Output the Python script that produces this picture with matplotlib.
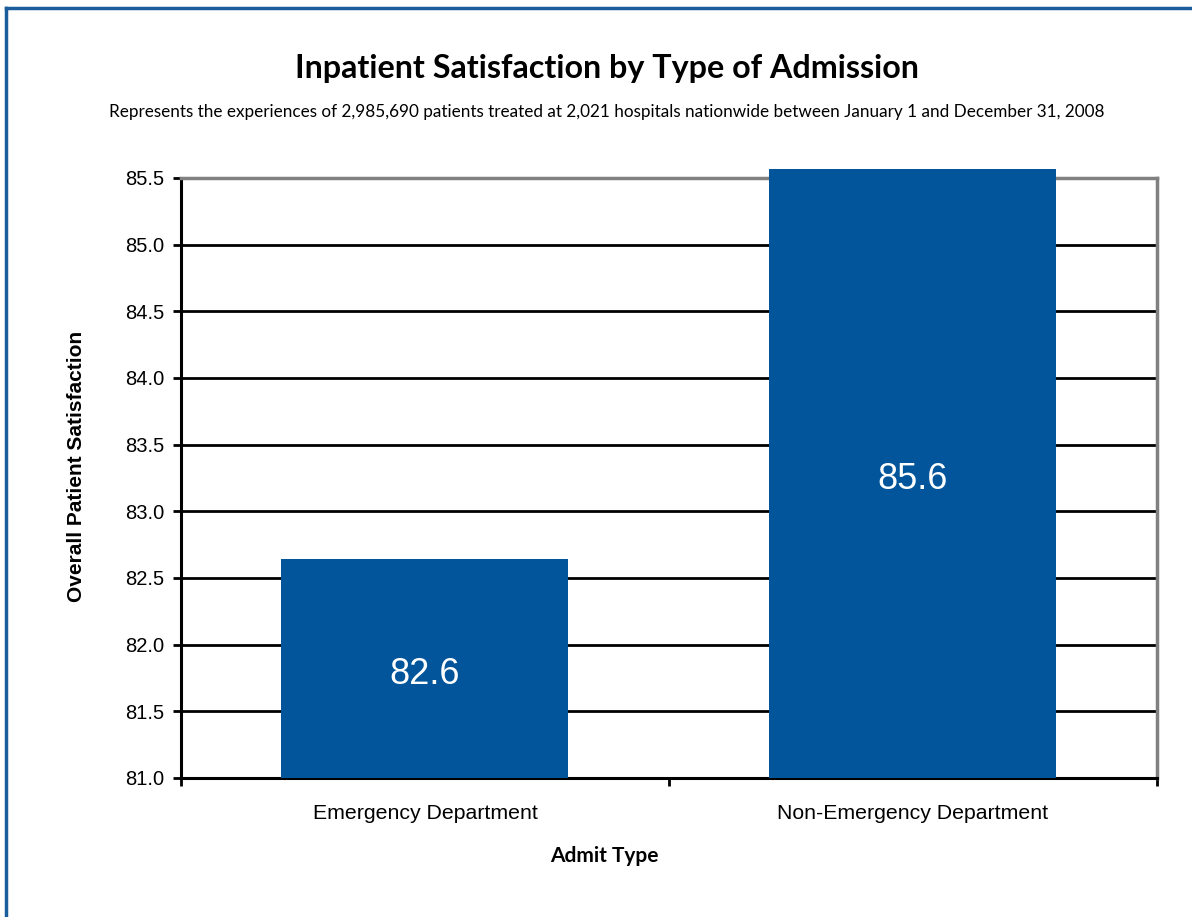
import numpy as np
import matplotlib.pyplot as plt
from matplotlib.lines import Line2D

categories = ["Emergency Department", "Non-Emergency Department"]
values = [82.64, 85.57]
value_labels = ["82.6", "85.6"]
y_ticks = [81.0, 81.5, 82.0, 82.5, 83.0, 83.5, 84.0, 84.5, 85.0, 85.5]
y_min = 81.0

bar_color = "#02559A"
border_color = "#1B5C9B"

fig = plt.figure(figsize=(11.92, 9.17), dpi=100)
ax = fig.add_axes([0.1518, 0.1516, 0.8188, 0.6543])

x = np.arange(len(categories))
heights = [v - y_min for v in values]
bars = ax.bar(x, heights, bottom=y_min, width=0.588, color=bar_color, zorder=3, clip_on=False)

for xi, v, lab in zip(x, values, value_labels):
    ax.annotate(lab, (xi, (y_min + v) / 2), xytext=(0, -4.3), textcoords="offset points",
                ha="center", va="center", color="white", fontsize=26,
                family="Liberation Sans", zorder=4)

ax.set_ylim(y_min, 85.5)
ax.set_xlim(-0.5, len(categories) - 0.5)
ax.set_yticks(y_ticks)
ax.set_yticklabels([f"{t:.1f}" for t in y_ticks], family="Liberation Sans", fontsize=14.5)
ax.set_xticks(x)
ax.set_xticklabels(categories, family="Liberation Sans", fontsize=15.3)
ax.set_xticks(np.arange(-0.5, len(categories)), minor=True)
ax.tick_params(axis="x", which="major", length=0, pad=19)
ax.tick_params(axis="x", which="minor", length=6, width=2, direction="out", color="black")
ax.tick_params(axis="y", length=6, width=2, direction="out", pad=6)

ax.yaxis.grid(True, color="black", lw=2)
ax.set_axisbelow(True)

ax.spines["left"].set_linewidth(2.2)
ax.spines["bottom"].set_linewidth(2.2)
ax.spines["top"].set_color("#808080")
ax.spines["top"].set_linewidth(2.5)
ax.spines["right"].set_color("#808080")
ax.spines["right"].set_linewidth(2.5)

ax.set_ylabel("Overall Patient Satisfaction", family="Liberation Sans", fontweight="bold",
              fontsize=15)
ax.yaxis.set_label_coords(-0.097, 0.52)
ax.set_xlabel("Admit Type", family="Lato", fontweight="bold", fontsize=15)
ax.xaxis.set_label_coords(0.434, -0.114)

fig.text(0.509, 0.925, "Inpatient Satisfaction by Type of Admission", ha="center", va="center",
         family="Lato", fontweight="bold", fontsize=23.2)
fig.text(0.509, 0.878, "Represents the experiences of 2,985,690 patients treated at 2,021 hospitals "
         "nationwide between January 1 and December 31, 2008", ha="center", va="center",
         family="Lato", fontsize=12.3)

# outer frame (only left and top edges are visible in the crop)
fig.add_artist(Line2D([0.0052, 0.0052], [0.0, 0.9915], color=border_color, lw=2.5))
fig.add_artist(Line2D([0.0052, 1.0], [0.9915, 0.9915], color=border_color, lw=2.5))

fig.savefig("out.png", dpi=100)
